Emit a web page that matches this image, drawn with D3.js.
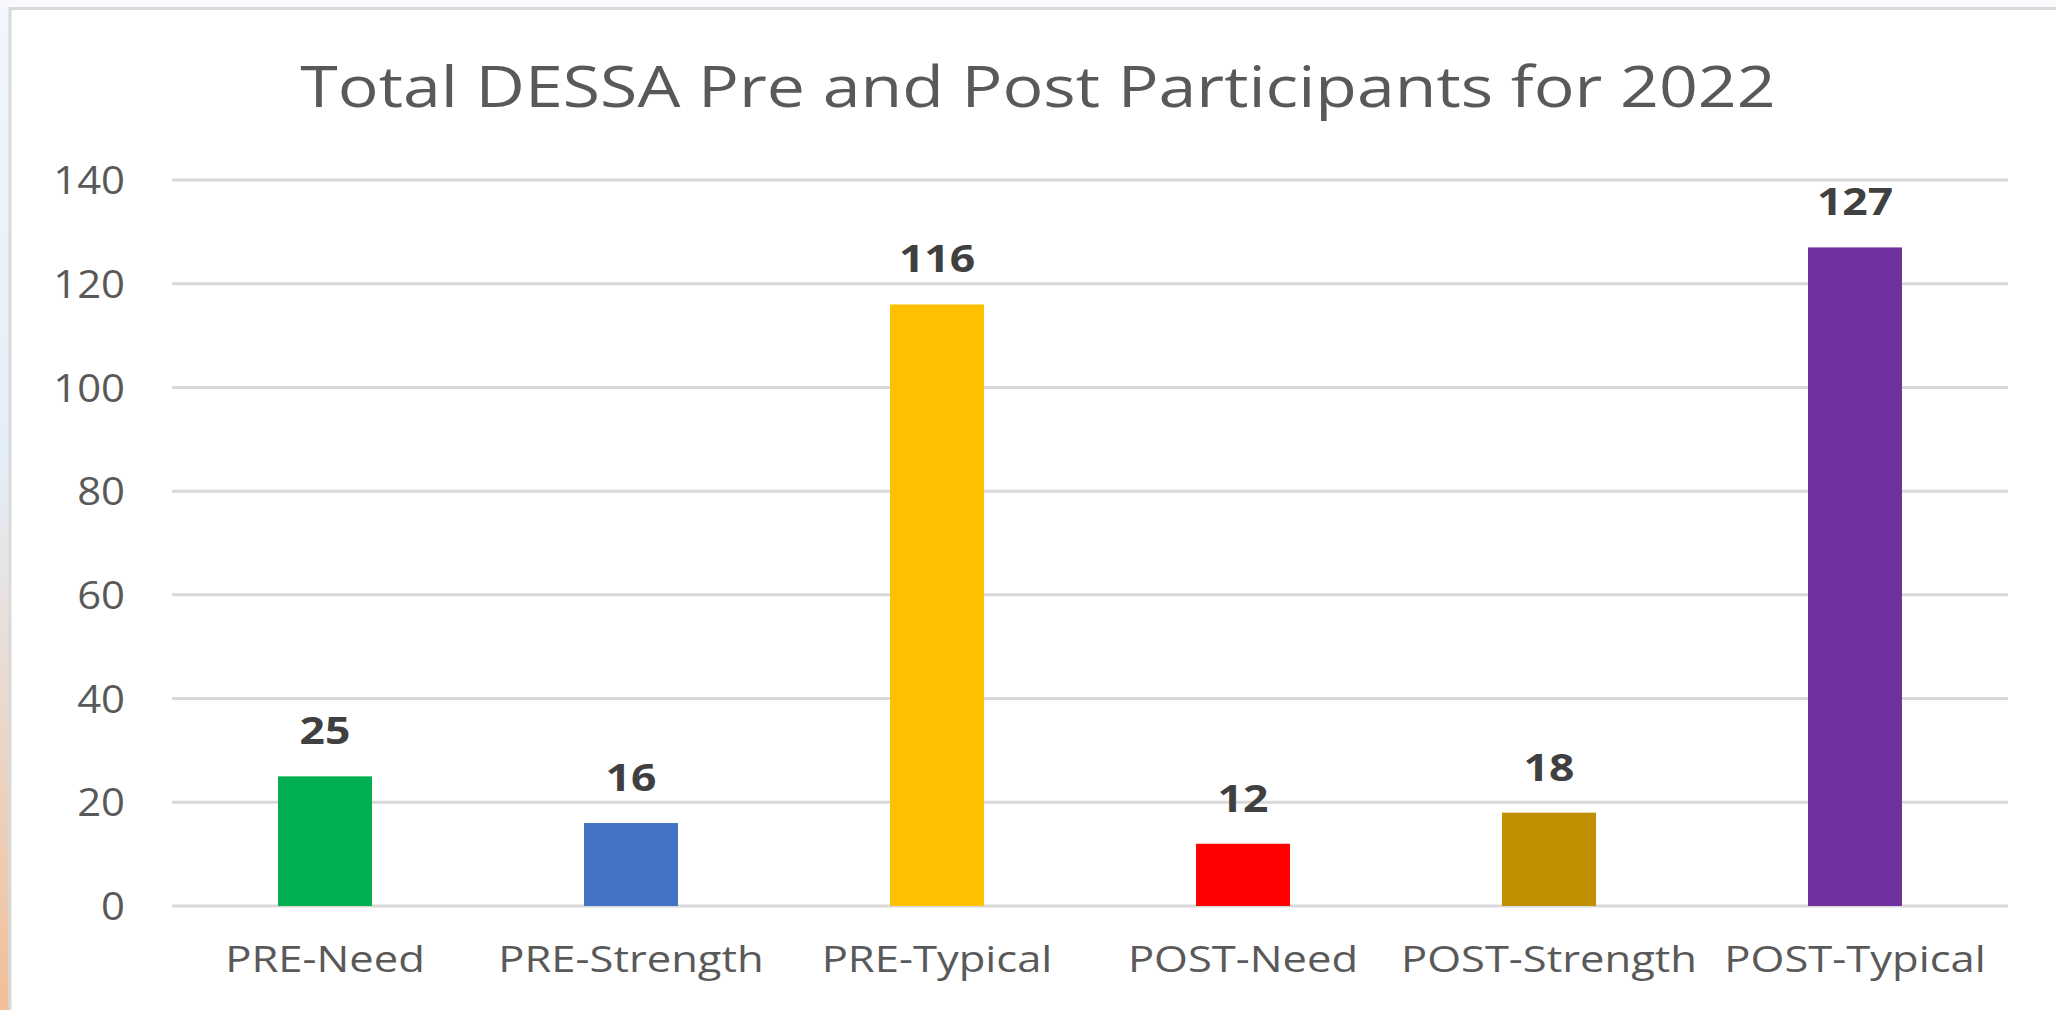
<!DOCTYPE html>
<html><head><meta charset="utf-8">
<script src="https://cdn.jsdelivr.net/npm/d3@7"></script>
<style>
html,body{margin:0;padding:0;background:#fff;overflow:hidden}
svg{display:block}
text{font-family:"Open Sans",sans-serif}
</style></head>
<body><svg id="chart" width="2056" height="1010"></svg>
<script>
const categories = ["PRE-Need","PRE-Strength","PRE-Typical","POST-Need","POST-Strength","POST-Typical"];
const values = [25,16,116,12,18,127];
const colors = ["#00b050","#4472c4","#ffc000","#ff0000","#bf8f00","#7030a0"];
const yTicks = [0,20,40,60,80,100,120,140];
const title = "Total DESSA Pre and Post Participants for 2022";

(function(){
const svg = d3.select("#chart");
const W = 2056, H = 1010;

const defs = svg.append("defs");
const g1 = defs.append("linearGradient").attr("id","bgGrad").attr("x1",0).attr("y1",0).attr("x2",0).attr("y2",1);
g1.append("stop").attr("offset","0%").attr("stop-color","#f3f6fb");
g1.append("stop").attr("offset","45%").attr("stop-color","#e4eef9");
g1.append("stop").attr("offset","100%").attr("stop-color","#f1bf98");
svg.append("rect").attr("x",0).attr("y",0).attr("width",10).attr("height",H).attr("fill","url(#bgGrad)");
svg.append("rect").attr("x",0).attr("y",0).attr("width",W).attr("height",7).attr("fill","#f7f9fc");

svg.append("rect").attr("x",10).attr("y",8.5).attr("width",W+20).attr("height",H+20)
  .attr("fill","#fff").attr("stroke","#d9d9d9").attr("stroke-width",3);

const pl = 172, pr = 2008, pt = 180, pb = 906;
const x = d3.scaleBand().domain(categories).range([pl,pr]).paddingInner(0.693).paddingOuter(0.3465);
const y = d3.scaleLinear().domain([0,140]).range([pb,pt]);

svg.append("g").selectAll("line").data(yTicks).join("line")
  .attr("x1",pl).attr("x2",pr)
  .attr("y1",d=>y(d)).attr("y2",d=>y(d))
  .attr("stroke","#d9d9d9").attr("stroke-width",3);

const yAxis = d3.axisLeft(y).tickValues(yTicks).tickSize(0).tickPadding(0);
const ya = svg.append("g").attr("transform",`translate(${pl-47},0)`).call(yAxis);
ya.select(".domain").remove();
ya.selectAll("text").attr("font-size",38).attr("fill","#595959").attr("font-family","Open Sans")
  .attr("dy","0.36em").attr("transform","scale(1.1,1)");

svg.append("g").selectAll("rect").data(categories).join("rect")
  .attr("x",d=>x(d)).attr("width",x.bandwidth())
  .attr("y",(d,i)=>y(values[i])).attr("height",(d,i)=>y(0)-y(values[i]))
  .attr("fill",(d,i)=>colors[i]);

svg.append("g").selectAll("g").data(categories).join("g")
  .attr("transform",(d,i)=>`translate(${x(d)+x.bandwidth()/2},${y(values[i])-32}) scale(1.2,1)`)
  .append("text")
  .attr("text-anchor","middle").attr("font-size",37).attr("font-weight",700)
  .attr("fill","#404040").text((d,i)=>values[i]);

const xAxis = d3.axisBottom(x).tickSize(0).tickPadding(0);
const xa = svg.append("g").attr("transform",`translate(0,${pb+40})`).call(xAxis);
xa.select(".domain").remove();
xa.selectAll("text").attr("font-size",36).attr("fill","#595959").attr("font-family","Open Sans")
  .attr("dy","0.71em").attr("transform","scale(1.21,1)");

svg.append("g").attr("transform","translate(1038,107) scale(1.215,1)")
  .append("text").attr("text-anchor","middle")
  .attr("font-size",56).attr("fill","#595959").text(title);
})();
</script></body></html>
